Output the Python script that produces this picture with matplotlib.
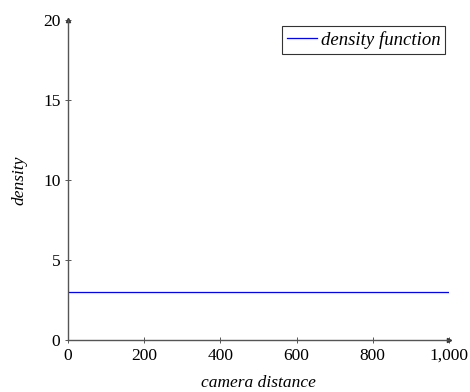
import numpy as np
import matplotlib.pyplot as plt

# Data
x = [0, 1000]
density = [3, 3]
xticks = [0, 200, 400, 600, 800, 1000]
xtick_labels = ["0", "200", "400", "600", "800", "1,000"]
yticks = [0, 5, 10, 15, 20]

plt.rcParams["font.family"] = ["Liberation Serif", "DejaVu Serif"]
plt.rcParams["font.size"] = 12.5

axis_color = "#555555"

fig = plt.figure(figsize=(4.7, 3.92), dpi=100)
ax = fig.add_axes([68 / 470, 52 / 392, 381 / 470, 320 / 392])

ax.plot(x, density, color="#0000ff", linewidth=0.9, label="density function")

ax.set_xlim(0, 1000)
ax.set_ylim(0, 20)
ax.set_xticks(xticks)
ax.set_xticklabels(xtick_labels)
ax.set_yticks(yticks)

for side in ["top", "right"]:
    ax.spines[side].set_visible(False)
for side in ["left", "bottom"]:
    ax.spines[side].set_color(axis_color)
    ax.spines[side].set_linewidth(1.0)

ax.tick_params(direction="inout", length=5, width=0.7, color=axis_color,
               labelsize=12.5, pad=3)

# arrow heads at the end of the axis lines
ax.plot([1], [0], marker=">", color="#333333", markersize=3,
        transform=ax.transAxes, clip_on=False)
ax.plot([0], [1], marker="^", color="#333333", markersize=3,
        transform=ax.transAxes, clip_on=False)

ax.set_xlabel("camera distance", style="italic", fontsize=12.5, labelpad=8)
ax.set_ylabel("density", style="italic", fontsize=12.5, labelpad=11)

leg = ax.legend(loc="upper right", bbox_to_anchor=(0.99, 0.98), fontsize=13.5,
                frameon=True, fancybox=False, handlelength=1.6,
                handletextpad=0.2, borderpad=0.25, borderaxespad=0)
leg.get_frame().set_edgecolor("black")
leg.get_frame().set_linewidth(0.8)
for t in leg.get_texts():
    t.set_style("italic")

fig.savefig("out.png", dpi=100)
